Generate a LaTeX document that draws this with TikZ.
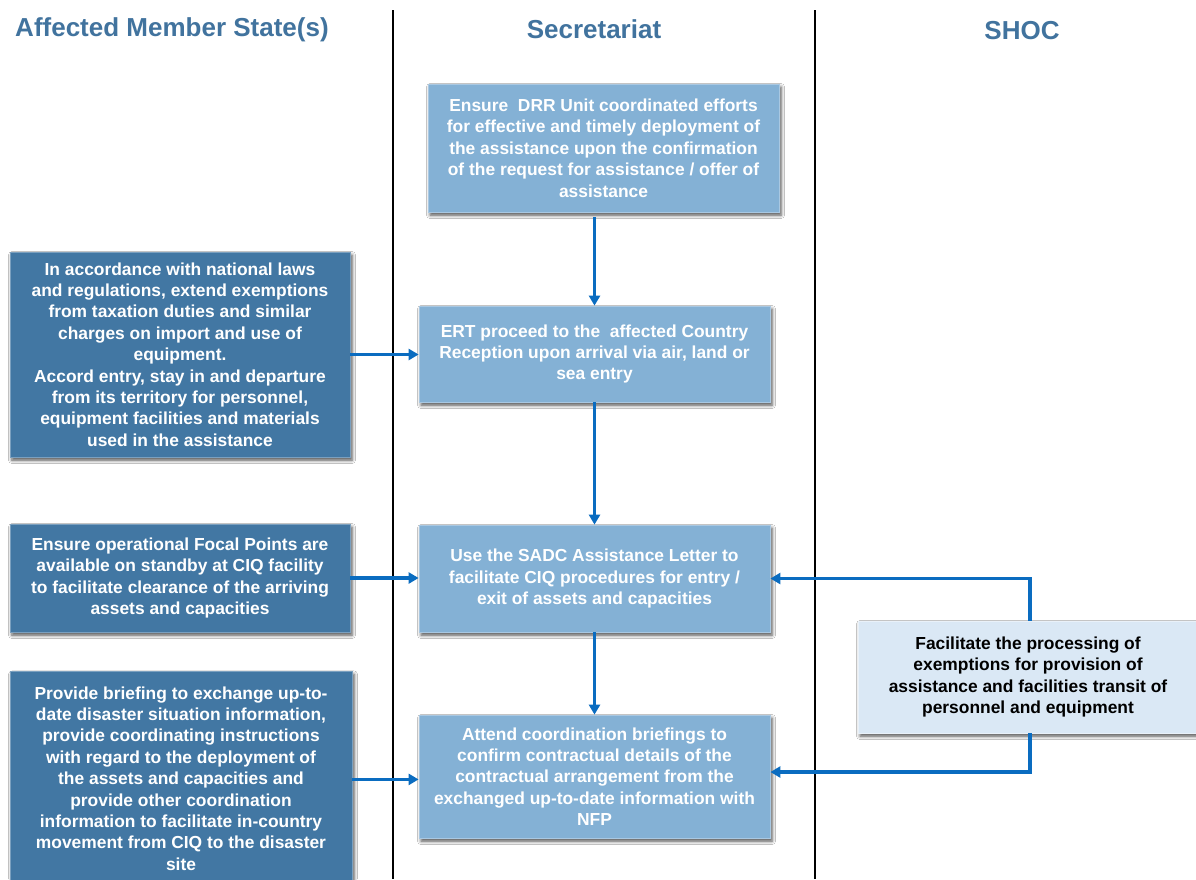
\documentclass[tikz,border=0pt]{standalone}
\usepackage{fontspec}
\setmainfont{Liberation Sans}
\usetikzlibrary{arrows.meta,shadows.blur}

\definecolor{headblue}{HTML}{41739E}
\definecolor{darkbox}{HTML}{4277A3}
\definecolor{midbox}{HTML}{84B1D5}
\definecolor{lightbox}{HTML}{DAE8F5}
\definecolor{flowblue}{HTML}{0A6CC0}

\tikzset{
  header/.style={font=\fontsize{26}{30}\selectfont\bfseries, text=headblue},
  lane/.style={draw=black},
  basebox/.style={rectangle, align=center, inner sep=2pt,
    font=\fontsize{17.4}{21.4}\selectfont\bfseries,
    blur shadow={shadow xshift=2pt, shadow yshift=-3pt,
      shadow blur radius=3.5pt, shadow opacity=70}},
  asmbox/.style={basebox, fill=darkbox, draw=darkbox!70!white, line width=0.8pt, text=white},
  secbox/.style={basebox, fill=midbox, draw=midbox!70!white, line width=0.8pt, text=white},
  shocbox/.style={basebox, fill=lightbox, draw=lightbox!60!white, line width=0.8pt, text=black},
  flow/.style={draw=flowblue, line width=3.4pt,
    -{Triangle[length=10pt,width=11pt]}}
}

\begin{document}
\begin{tikzpicture}[x=1pt,y=-1pt]
  \clip (0,0) rectangle (1196,879);
  \fill[white] (0,0) rectangle (1196,879);

  % swimlane separators
  \draw[lane, line width=2pt] (393,10) -- (393,879);
  \draw[lane, line width=1.3pt] (815,10) -- (815,879);

  % lane headings
  \node[header] (hasm) at (172,29.5) {Affected Member State(s)};
  \node[header] (hsec) at (594,29) {Secretariat};
  \node[header] (hshoc) at (1022,31) {SHOC};

  % Secretariat column
  \node[secbox, minimum width=351pt, minimum height=128pt] (s1) at (603.5,148)
    {Ensure\ \ DRR Unit coordinated efforts\\for effective and timely deployment of\\the assistance upon the confirmation\\of the request for assistance / offer of\\assistance};
  \node[secbox, minimum width=351pt, minimum height=96pt] (s2) at (594.5,354)
    {ERT proceed to the\ \ affected Country\\Reception upon arrival via air, land or\\sea entry};
  \node[secbox, minimum width=351pt, minimum height=107pt] (s3) at (594.5,578.5)
    {Use the SADC Assistance Letter to\\facilitate CIQ procedures for entry /\\exit of assets and capacities};
  \node[secbox, minimum width=351pt, minimum height=123pt] (s4) at (594.5,776.5)
    {Attend coordination briefings to\\confirm contractual details of the\\contractual arrangement from the\\exchanged up-to-date information with\\NFP};

  % Affected Member State(s) column
  \node[asmbox, minimum width=340pt, minimum height=205pt] (a1) at (180,354.5)
    {In accordance with national laws\\and regulations, extend exemptions\\from taxation duties and similar\\charges on import and use of\\equipment.\\Accord entry, stay in and departure\\from its territory for personnel,\\equipment facilities and materials\\used in the assistance};
  \node[asmbox, minimum width=340pt, minimum height=108pt] (a2) at (180,578)
    {Ensure operational Focal Points are\\available on standby at CIQ facility\\to facilitate clearance of the arriving\\assets and capacities};
  \node[asmbox, minimum width=342pt, minimum height=214pt, anchor=north] (a3) at (181,671)
    {Provide briefing to exchange up-to-\\date disaster situation information,\\provide coordinating instructions\\with regard to the deployment of\\the assets and capacities and\\provide other coordination\\information to facilitate in-country\\movement from CIQ to the disaster\\site};

  % SHOC column
  \node[shocbox, minimum width=340pt, minimum height=112pt] (h1) at (1028,677)
    {Facilitate the processing of\\exemptions for provision of\\assistance and facilities transit of\\personnel and equipment};

  % flow down the Secretariat lane
  \draw[flow] (s2.north |- s1.south) ++(0,5) -- (s2.north);
  \draw[flow] (s2.south) -- (s3.north);
  \draw[flow] (s3.south) -- (s4.north);

  % Member State inputs
  \draw[flow] (a1.east) -- (a1.east -| s2.west);
  \draw[flow] (a2.east) -- (a2.east -| s3.west);
  \draw[flow] ([yshift=-1pt]a3.center -| a3.east) -- ([yshift=-1pt]a3.center -| s4.west);

  % SHOC inputs
  \draw[flow] ([xshift=2pt]h1.north) |- (s3.east);
  \draw[flow] ([xshift=2pt]h1.south) |- ([yshift=4.5pt]s4.east);
\end{tikzpicture}
\end{document}
